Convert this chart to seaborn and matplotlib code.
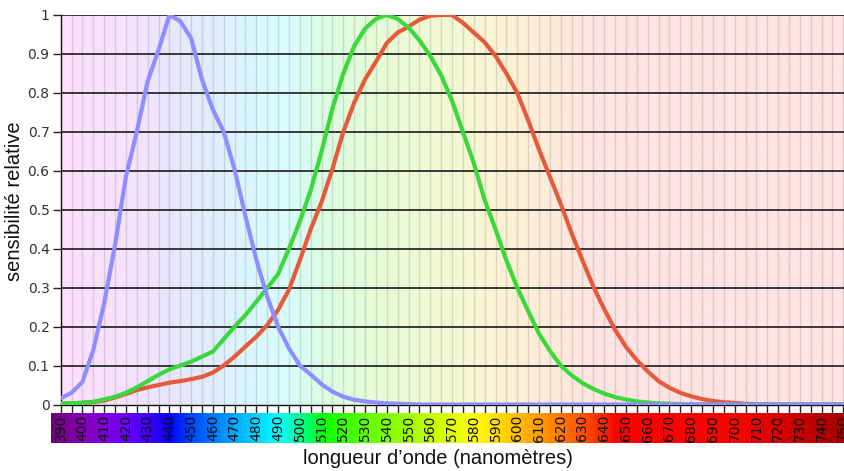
import numpy as np
import pandas as pd
import matplotlib
matplotlib.use("Agg")
import matplotlib.pyplot as plt
import seaborn as sns

# ---------------- data ----------------
wavelengths = [390, 395, 400, 405, 410, 415, 420, 425, 430, 435,
               440, 445, 450, 455, 460, 465, 470, 475, 480, 485,
               490, 495, 500, 505, 510, 515, 520, 525, 530, 535,
               540, 545, 550, 555, 560, 565, 570, 575, 580, 585,
               590, 595, 600, 605, 610, 615, 620, 625, 630, 635,
               640, 645, 650, 655, 660, 665, 670, 675, 680, 685,
               690, 695, 700, 705, 710, 715, 720, 725, 730, 735,
               740, 745, 750]

s_cone = [0.016, 0.030, 0.058, 0.14, 0.26, 0.41, 0.585, 0.70, 0.83, 0.91,
          1.0, 0.984, 0.94, 0.834, 0.757, 0.70, 0.603, 0.483, 0.371, 0.277,
          0.20, 0.144, 0.10, 0.077, 0.052, 0.033, 0.020, 0.012, 0.008, 0.005,
          0.003, 0.002, 0.001, 0.0, 0.0, 0.0, 0.0, 0.0, 0.0, 0.0,
          0.0, 0.0, 0.0, 0.0, 0.0, 0.0, 0.0, 0.0, 0.0, 0.0,
          0.0, 0.0, 0.0, 0.0, 0.0, 0.0, 0.0, 0.0, 0.0, 0.0,
          0.0, 0.0, 0.0, 0.0, 0.0, 0.0, 0.0, 0.0, 0.0, 0.0,
          0.0, 0.0, 0.0]

m_cone = [0.003, 0.003, 0.005, 0.007, 0.013, 0.020, 0.030, 0.044, 0.060, 0.076,
          0.090, 0.100, 0.110, 0.123, 0.136, 0.168, 0.200, 0.230, 0.264, 0.299,
          0.335, 0.400, 0.470, 0.550, 0.650, 0.760, 0.850, 0.920, 0.965, 0.990,
          1.0, 0.990, 0.968, 0.935, 0.895, 0.845, 0.780, 0.700, 0.620, 0.525,
          0.450, 0.370, 0.300, 0.240, 0.182, 0.138, 0.100, 0.075, 0.055, 0.040,
          0.028, 0.019, 0.013, 0.008, 0.005, 0.003, 0.002, 0.001, 0.0, 0.0,
          0.0, 0.0, 0.0, 0.0, 0.0, 0.0, 0.0, 0.0, 0.0, 0.0,
          0.0, 0.0, 0.0]

l_cone = [0.002, 0.003, 0.004, 0.006, 0.010, 0.018, 0.027, 0.037, 0.044, 0.050,
          0.056, 0.060, 0.065, 0.071, 0.082, 0.100, 0.123, 0.149, 0.174, 0.204,
          0.243, 0.295, 0.370, 0.450, 0.520, 0.605, 0.700, 0.775, 0.835, 0.880,
          0.928, 0.955, 0.970, 0.988, 0.998, 1.0, 1.0, 0.980, 0.955, 0.930,
          0.895, 0.850, 0.800, 0.730, 0.655, 0.585, 0.515, 0.440, 0.370, 0.303,
          0.245, 0.192, 0.148, 0.114, 0.085, 0.060, 0.043, 0.030, 0.021, 0.014,
          0.009, 0.006, 0.004, 0.002, 0.001, 0.0, 0.0, 0.0, 0.0, 0.0,
          0.0, 0.0, 0.0]

spectrum_labels = [390, 400, 410, 420, 430, 440, 450, 460, 470, 480, 490,
                   500, 510, 520, 530, 540, 550, 560, 570, 580, 590, 600,
                   610, 620, 630, 640, 650, 660, 670, 680, 690, 700, 710,
                   720, 730, 740, 750]
y_ticks = [0, 0.1, 0.2, 0.3, 0.4, 0.5, 0.6, 0.7, 0.8, 0.9, 1]
y_tick_labels = ["0", "0.1", "0.2", "0.3", "0.4", "0.5", "0.6", "0.7", "0.8", "0.9", "1"]
cone_names = ["L", "M", "S"]
cone_colors = {"L": "#e65a3c", "M": "#3ad83a", "S": "#8e8eff"}

x_label = "longueur d\u2019onde (nanomètres)"
y_label = "sensibilité relative"

df = pd.DataFrame({
    "wavelength": wavelengths * 3,
    "value": l_cone + m_cone + s_cone,
    "cone": ["L"] * len(wavelengths) + ["M"] * len(wavelengths) + ["S"] * len(wavelengths),
})


def wl_rgb(w):
    if w < 440:
        r, g, b = -(w - 440) / 60.0, 0.0, 1.0
    elif w < 490:
        r, g, b = 0.0, (w - 440) / 50.0, 1.0
    elif w < 510:
        r, g, b = 0.0, 1.0, -(w - 510) / 20.0
    elif w < 580:
        r, g, b = (w - 510) / 70.0, 1.0, 0.0
    elif w < 645:
        r, g, b = 1.0, -(w - 645) / 65.0, 0.0
    else:
        r, g, b = 1.0, 0.0, 0.0
    f = 1.0
    if w < 420:
        f = 0.3 + 0.7 * (w - 380) / 40.0
    elif w > 700:
        f = 0.3 + 0.7 * (780 - w) / 80.0
    return [max(c * f, 0) ** 0.8 for c in (r, g, b)]


# pale background colour stops (styling only)
bg_stops_w = [380, 390, 420, 440, 460, 480, 495, 510, 530, 560, 580, 600, 620, 640, 760]
bg_stops_c = [(253, 224, 253), (253, 224, 253), (246, 226, 254), (233, 230, 254),
              (224, 238, 254), (218, 248, 254), (216, 253, 248), (218, 252, 228),
              (228, 252, 216), (240, 250, 212), (248, 247, 212), (253, 240, 214),
              (254, 234, 220), (254, 228, 228), (254, 228, 228)]

# ---------------- figure ----------------
sns.set_theme(style="white")
plt.rcParams["font.family"] = ["DejaVu Sans"]

W, H = 844, 471
fig = plt.figure(figsize=(W / 100, H / 100), dpi=100)

x0_px, x1_px = 60.7, 844.0
y_top, y_bot = 15.0, 404.5
xmin, xmax = 390.0, 750.3
pxnm = (x1_px - x0_px) / (xmax - xmin)

ax = fig.add_axes([x0_px / W, 1 - y_bot / H, (x1_px - x0_px) / W, (y_bot - y_top) / H])

grid_w = np.linspace(380, 760, 760)
stops = np.array(bg_stops_c) / 255.0
bg = np.stack([np.interp(grid_w, bg_stops_w, stops[:, k]) for k in range(3)], axis=1)
ax.imshow(bg[np.newaxis, :, :], extent=(380, 760, 0, 1), aspect="auto",
          origin="lower", zorder=0, interpolation="bilinear")

for w in wavelengths:
    ax.axvline(w, color=(0, 0, 0, 0.12), lw=1.0, zorder=0.5)
for yv in y_ticks[1:]:
    ax.axhline(yv, color="#2a2a2a", lw=1.3, zorder=0.6)

sns.lineplot(data=df, x="wavelength", y="value", hue="cone", hue_order=cone_names,
             palette=cone_colors, lw=3.0, legend=False, ax=ax, zorder=3)

ax.set_xlim(xmin, xmax)
ax.set_ylim(0, 1)
ax.set_xticks(wavelengths)
ax.set_xticklabels([])
ax.set_yticks(y_ticks)
ax.set_yticklabels(y_tick_labels, fontsize=10, color="#333333")
ax.tick_params(axis="x", direction="out", length=6, width=1, color="#222222", bottom=True)
ax.tick_params(axis="y", direction="out", length=6, width=1, color="#222222", pad=2, left=True)
ax.set_xlabel("")
ax.set_ylabel("")
for side in ["top", "right"]:
    ax.spines[side].set_visible(False)
ax.spines["left"].set_color("#111111")
ax.spines["left"].set_linewidth(1.0)
ax.spines["bottom"].set_color("#111111")
ax.spines["bottom"].set_linewidth(1.0)

# colour spectrum bar
cb_top, cb_bot = 413.3, 443.3
cb_xmin = xmin - (x0_px - 50.7) / pxnm
axc = fig.add_axes([50.7 / W, 1 - cb_bot / H, (x1_px - 50.7) / W, (cb_bot - cb_top) / H])
cw = np.linspace(380, 760, 760)
cb = np.array([wl_rgb(w) for w in cw])
axc.imshow(cb[np.newaxis, :, :], extent=(380, 760, 0, 1), aspect="auto",
           origin="lower", interpolation="bilinear")
axc.set_xlim(cb_xmin, xmax)
axc.set_ylim(0, 1)
axc.set_xticks([])
axc.set_yticks([])
for s in axc.spines.values():
    s.set_visible(False)
for lab in spectrum_labels:
    axc.text(lab, 0.5, str(lab), rotation=90, ha="center", va="center",
             fontsize=10, color="#111111", clip_on=False)

fig.text(437.5 / W, 1 - 458 / H, x_label, ha="center", va="center",
         fontsize=14.5, color="#111111", family=["Liberation Sans", "DejaVu Sans"])
fig.text(15 / W, 1 - 201 / H, y_label, ha="center", va="center", rotation=90,
         fontsize=14.5, color="#111111", family=["Liberation Sans", "DejaVu Sans"])

fig.savefig("out.png", dpi=100)
